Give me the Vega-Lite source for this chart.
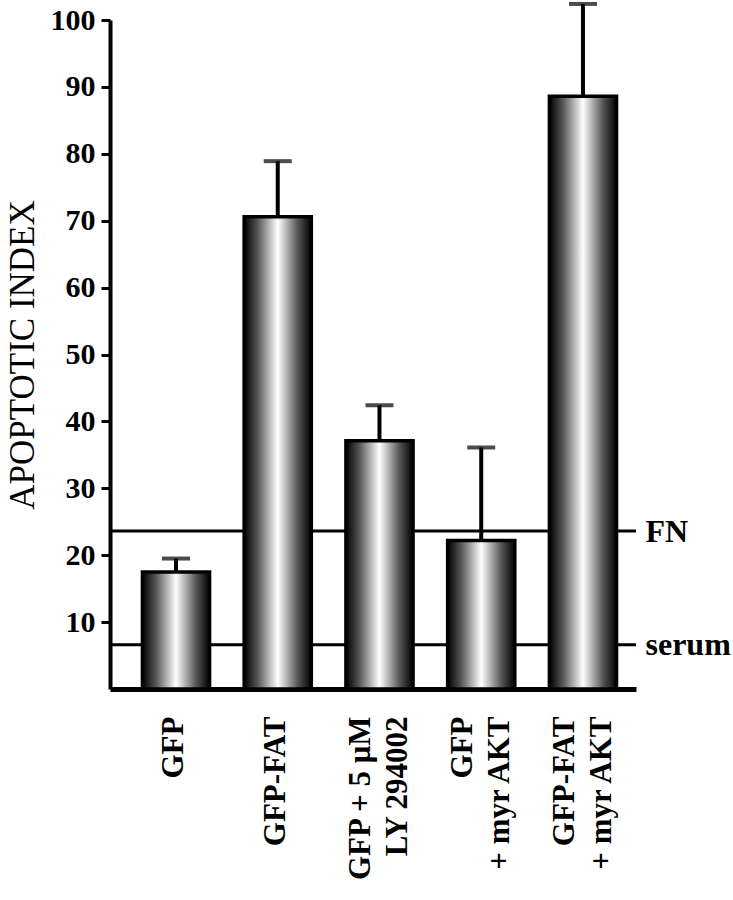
{
  "$schema": "https://vega.github.io/schema/vega-lite/v6.json",
  "width": 526,
  "height": 669,
  "padding": {"left": 5, "top": 1, "right": 5, "bottom": 5},
  "background": "white",
  "config": {"view": {"stroke": null}, "font": "Liberation Serif"},
  "datasets": {
    "bars": [
      {"group": "GFP", "value": 17.5, "err": 19.5},
      {"group": "GFP-FAT", "value": 70.6, "err": 78.9},
      {"group": "GFP + 5 μM|LY 294002", "value": 37.1, "err": 42.4},
      {"group": "GFP|+ myr AKT", "value": 22.2, "err": 36.1},
      {"group": "GFP-FAT|+ myr AKT", "value": 88.6, "err": 102.4}
    ],
    "refs": [
      {"name": "FN", "level": 23.6},
      {"name": "serum", "level": 6.6}
    ]
  },
  "layer": [
    {
      "data": {"name": "refs"},
      "mark": {"type": "rule", "color": "black", "strokeWidth": 3},
      "encoding": {
        "y": {
          "field": "level", "type": "quantitative",
          "scale": {"domain": [0, 100]},
          "axis": {
            "orient": "right", "title": null, "domain": false, "ticks": false, "grid": false,
            "values": [6.6, 23.6],
            "labelExpr": "datum.value < 15 ? 'serum' : 'FN'",
            "labelFont": "Liberation Serif", "labelFontWeight": "bold", "labelFontSize": 32,
            "labelColor": "black", "labelPadding": 9, "labelBaseline": "middle"
          }
        }
      }
    },
    {
      "data": {"name": "bars"},
      "layer": [
        {
          "mark": {
            "type": "bar", "stroke": "black", "strokeWidth": 3.5,
            "fill": {
              "gradient": "linear", "x1": 0, "x2": 1, "y1": 0, "y2": 0,
              "stops": [
                {"offset": 0, "color": "#000000"},
                {"offset": 0.2, "color": "#555555"},
                {"offset": 0.5, "color": "#ffffff"},
                {"offset": 0.8, "color": "#555555"},
                {"offset": 1, "color": "#000000"}
              ]
            }
          },
          "encoding": {
            "x": {
              "field": "group", "type": "nominal", "sort": null,
              "scale": {"paddingInner": 0.34, "paddingOuter": 0.255, "align": 0.625},
              "axis": {
                "title": null, "ticks": false, "domainColor": "black", "domainWidth": 5,
                "labelAngle": -90, "labelAlign": "right", "labelBaseline": "middle",
                "labelExpr": "split(datum.label, '|')",
                "labelOffset": {"condition": {"test": "indexof(datum.label, '|') >= 0", "value": -18}, "value": -2},
                "labelFont": "Liberation Serif", "labelFontWeight": "bold", "labelFontSize": 31,
                "labelLineHeight": 37, "labelColor": "black", "labelPadding": 27, "labelLimit": 300
              }
            },
            "y": {
              "field": "value", "type": "quantitative",
              "scale": {"domain": [0, 100]},
              "axis": {
                "orient": "left", "title": "APOPTOTIC INDEX", "grid": false,
                "values": [10, 20, 30, 40, 50, 60, 70, 80, 90, 100],
                "domainColor": "black", "domainWidth": 4,
                "tickColor": "black", "tickWidth": 3, "tickSize": 9,
                "labelFont": "Liberation Serif", "labelFontWeight": "bold", "labelFontSize": 30,
                "labelColor": "black", "labelPadding": 6,
                "titleFont": "Liberation Serif", "titleFontWeight": "normal", "titleFontSize": 35,
                "titleColor": "black", "titlePadding": 10
              }
            }
          }
        },
        {
          "mark": {"type": "rule", "color": "black", "strokeWidth": 4},
          "encoding": {
            "x": {"field": "group", "type": "nominal", "sort": null},
            "y": {"field": "value", "type": "quantitative"},
            "y2": {"field": "err"}
          }
        },
        {
          "mark": {"type": "tick", "color": "black", "orient": "horizontal", "size": 28, "thickness": 4},
          "encoding": {
            "x": {"field": "group", "type": "nominal", "sort": null},
            "y": {"field": "err", "type": "quantitative"}
          }
        }
      ]
    }
  ],
  "resolve": {"axis": {"y": "independent"}}
}
